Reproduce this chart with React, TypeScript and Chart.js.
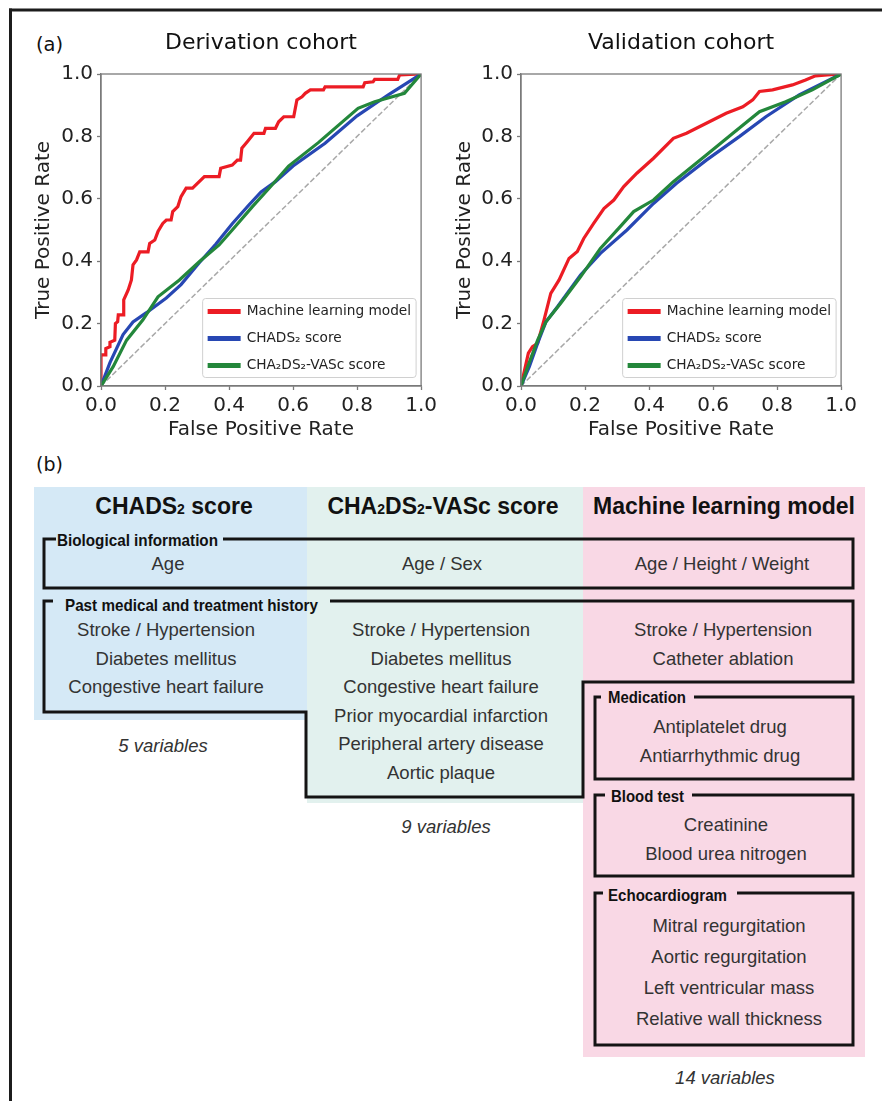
import React, { useEffect, useRef } from 'react';
import { Chart, registerables } from 'chart.js';

Chart.register(...registerables);

// ---------------- Panel (a): ROC curves ----------------
const PANEL_TITLES = ['Derivation cohort', 'Validation cohort'];
const X_AXIS_TITLE = 'False Positive Rate';
const Y_AXIS_TITLE = 'True Positive Rate';
const SERIES_NAMES = ['Machine learning model', 'CHADS₂ score', 'CHA₂DS₂-VASc score'];
const TICK_VALUES = [0, 0.2, 0.4, 0.6, 0.8, 1.0];
const CHANCE_LINE: [number, number][] = [[0, 0], [1, 1]];

// [false positive rate, true positive rate]
const DERIV_ML: [number, number][] = [
  [0, 0], [0, 0.1], [0.015, 0.1], [0.015, 0.12], [0.028, 0.126], [0.028, 0.14], [0.043, 0.147],
  [0.045, 0.2], [0.052, 0.206], [0.054, 0.228], [0.069, 0.228], [0.071, 0.276], [0.085, 0.308],
  [0.095, 0.34], [0.1, 0.388], [0.111, 0.404], [0.121, 0.43], [0.147, 0.43], [0.152, 0.457],
  [0.168, 0.468], [0.178, 0.495], [0.193, 0.521], [0.204, 0.532], [0.219, 0.532], [0.224, 0.559],
  [0.24, 0.575], [0.25, 0.607], [0.266, 0.634], [0.286, 0.634], [0.302, 0.65], [0.323, 0.671],
  [0.369, 0.671], [0.374, 0.698], [0.41, 0.708], [0.426, 0.724], [0.436, 0.724], [0.44, 0.762],
  [0.457, 0.783], [0.478, 0.81], [0.509, 0.81], [0.514, 0.826], [0.545, 0.826], [0.555, 0.847],
  [0.571, 0.863], [0.602, 0.863], [0.612, 0.917], [0.628, 0.927], [0.638, 0.938], [0.654, 0.949],
  [0.695, 0.949], [0.7, 0.959], [0.819, 0.959], [0.824, 0.972], [0.85, 0.975], [0.855, 0.983],
  [0.927, 0.983], [0.933, 0.997], [1, 1],
];
const DERIV_CHADS: [number, number][] = [
  [0, 0], [0.028, 0.075], [0.069, 0.165], [0.1, 0.205], [0.142, 0.235], [0.204, 0.282],
  [0.25, 0.325], [0.307, 0.395], [0.359, 0.455], [0.41, 0.52], [0.462, 0.58], [0.5, 0.622],
  [0.545, 0.655], [0.6, 0.705], [0.7, 0.778], [0.8, 0.866], [0.9, 0.935], [1, 1],
];
const DERIV_VASC: [number, number][] = [
  [0, 0], [0.038, 0.062], [0.08, 0.147], [0.131, 0.212], [0.178, 0.286], [0.245, 0.34],
  [0.307, 0.398], [0.369, 0.452], [0.41, 0.5], [0.473, 0.575], [0.535, 0.645], [0.586, 0.705],
  [0.679, 0.78], [0.803, 0.89], [0.855, 0.911], [0.948, 0.938], [1, 1],
];
const VALID_ML: [number, number][] = [
  [0, 0], [0.023, 0.105], [0.036, 0.126], [0.052, 0.137], [0.072, 0.212], [0.093, 0.297],
  [0.119, 0.34], [0.15, 0.409], [0.176, 0.431], [0.196, 0.473], [0.227, 0.521], [0.259, 0.569],
  [0.29, 0.596], [0.321, 0.639], [0.362, 0.682], [0.414, 0.73], [0.476, 0.794], [0.517, 0.81],
  [0.579, 0.842], [0.641, 0.874], [0.693, 0.895], [0.724, 0.917], [0.745, 0.944], [0.786, 0.949],
  [0.848, 0.965], [0.889, 0.981], [0.92, 0.994], [0.957, 0.997], [1, 1],
];
const VALID_CHADS: [number, number][] = [
  [0, 0], [0.026, 0.062], [0.052, 0.137], [0.078, 0.206], [0.114, 0.254], [0.186, 0.356],
  [0.248, 0.425], [0.331, 0.5], [0.414, 0.585], [0.486, 0.65], [0.579, 0.724], [0.683, 0.8],
  [0.765, 0.863], [0.869, 0.933], [1, 1],
];
const VALID_VASC: [number, number][] = [
  [0, 0], [0.021, 0.062], [0.052, 0.147], [0.078, 0.206], [0.124, 0.265], [0.186, 0.35],
  [0.248, 0.441], [0.31, 0.511], [0.352, 0.559], [0.414, 0.596], [0.476, 0.655], [0.579, 0.74],
  [0.662, 0.81], [0.745, 0.879], [0.827, 0.911], [0.91, 0.949], [1, 1],
];

// ---------------- Panel (b): variable tables ----------------
const COLUMN_TITLES = ['CHADS₂ score', 'CHA₂DS₂-VASc score', 'Machine learning model'];
const GROUP_LABELS = ['Biological information', 'Past medical and treatment history', 'Medication', 'Blood test', 'Echocardiogram'];
const BIO_CHADS = ['Age'];
const BIO_VASC = ['Age / Sex'];
const BIO_ML = ['Age / Height / Weight'];
const HIST_CHADS = ['Stroke / Hypertension', 'Diabetes mellitus', 'Congestive heart failure'];
const HIST_VASC = ['Stroke / Hypertension', 'Diabetes mellitus', 'Congestive heart failure', 'Prior myocardial infarction', 'Peripheral artery disease', 'Aortic plaque'];
const HIST_ML = ['Stroke / Hypertension', 'Catheter ablation'];
const MEDICATION_ML = ['Antiplatelet drug', 'Antiarrhythmic drug'];
const BLOOD_ML = ['Creatinine', 'Blood urea nitrogen'];
const ECHO_ML = ['Mitral regurgitation', 'Aortic regurgitation', 'Left ventricular mass', 'Relative wall thickness'];
const VARIABLE_COUNTS = ['5 variables', '9 variables', '14 variables'];

// ---------------- styles ----------------
const SERIES_COLORS = ['#ec1c24', '#2747b3', '#23873b'];
const AXIS_GRAY = '#7a7a7a';
const MPL_FONT = "'DejaVu Sans', Verdana, sans-serif";
const ARIAL = "'Liberation Sans', Arial, Helvetica, sans-serif";

const framePlugin = {
  id: 'frame',
  afterDatasetsDraw(chart: any) {
    const { ctx, chartArea: a } = chart;
    ctx.save();
    ctx.strokeStyle = AXIS_GRAY;
    ctx.lineWidth = 1.3;
    ctx.strokeRect(a.left, a.top, a.right - a.left, a.bottom - a.top);
    ctx.restore();
  },
};

const insideLegend = {
  id: 'insideLegend',
  afterDraw(chart: any) {
    const { ctx, chartArea: a } = chart;
    const items = chart.data.datasets.filter((d: any) => d.label);
    ctx.save();
    ctx.font = `13.7px ${MPL_FONT}`;
    const textW = Math.max(...items.map((d: any) => ctx.measureText(d.label).width));
    const padL = 5, lineLen = 33, gap = 6, padR = 5, rowH = 27;
    const w = padL + lineLen + gap + textW + padR;
    const h = 13 + rowH * (items.length - 1) + 12;
    const right = a.right - 5;
    const bottom = a.bottom - 8.5;
    const left = right - w;
    const top = bottom - h;
    ctx.beginPath();
    ctx.roundRect(left, top, w, h, 3);
    ctx.fillStyle = 'rgba(255,255,255,0.85)';
    ctx.fill();
    ctx.strokeStyle = '#d0d0d0';
    ctx.lineWidth = 1;
    ctx.stroke();
    items.forEach((d: any, i: number) => {
      const cy = top + 13 + i * rowH;
      ctx.beginPath();
      ctx.moveTo(left + padL, cy);
      ctx.lineTo(left + padL + lineLen, cy);
      ctx.strokeStyle = d.borderColor;
      ctx.lineWidth = 5;
      ctx.lineCap = 'butt';
      ctx.stroke();
      ctx.fillStyle = '#222';
      ctx.textBaseline = 'middle';
      ctx.textAlign = 'left';
      ctx.fillText(d.label, left + padL + lineLen + gap, cy);
    });
    ctx.restore();
  },
};

function RocPanel({ title, series, left, yTitlePad }: { title: string; series: [number, number][][]; left: number; yTitlePad: number }) {
  const ref = useRef<HTMLCanvasElement>(null);
  useEffect(() => {
    if (!ref.current) return;
    const datasets: any[] = series.map((pts, i) => ({
      label: SERIES_NAMES[i],
      data: pts.map(([x, y]) => ({ x, y })),
      borderColor: SERIES_COLORS[i],
      backgroundColor: SERIES_COLORS[i],
      borderWidth: 3.2,
      pointRadius: 0,
      fill: false,
      tension: 0,
      order: 3 - i,
    }));
    datasets.push({
      label: '',
      data: CHANCE_LINE.map(([x, y]) => ({ x, y })),
      borderColor: '#a8a8a8',
      borderWidth: 1.5,
      borderDash: [5.5, 2.4],
      pointRadius: 0,
      fill: false,
      order: 10,
    });
    const tickFont = { family: MPL_FONT, size: 20 };
    const axisCommon = {
      type: 'linear',
      min: 0,
      max: 1,
      afterBuildTicks: (axis: any) => {
        axis.ticks = TICK_VALUES.map((v) => ({ value: v }));
      },
      grid: { display: true, drawOnChartArea: false, drawTicks: true, tickLength: 4, tickWidth: 1.3, tickColor: AXIS_GRAY },
      border: { display: true, color: AXIS_GRAY, width: 1.3 },
    };
    const chart = new Chart(ref.current, {
      type: 'line',
      data: { datasets },
      plugins: [framePlugin, insideLegend],
      options: {
        animation: false,
        responsive: false,
        devicePixelRatio: 1,
        layout: { padding: { top: 0, left: 0, right: 18, bottom: 0 } },
        plugins: {
          legend: { display: false },
          tooltip: { enabled: false },
          title: {
            display: true,
            text: title,
            fullSize: false,
            color: '#111',
            font: { family: MPL_FONT, size: 22, weight: 'normal' },
            padding: { top: 16, bottom: 17.6 },
          },
        },
        scales: {
          x: {
            ...axisCommon,
            position: 'bottom',
            ticks: { font: tickFont, color: '#222', padding: 4, maxRotation: 0, autoSkip: false, callback: (v: any) => Number(v).toFixed(1) },
            title: { display: true, text: X_AXIS_TITLE, color: '#222', font: { family: MPL_FONT, size: 20 }, padding: { top: 0, bottom: 0 } },
            afterFit: (s: any) => { s.height = 56; },
          },
          y: {
            ...axisCommon,
            position: 'left',
            ticks: { font: tickFont, color: '#222', padding: 4, autoSkip: false, callback: (v: any) => Number(v).toFixed(1) },
            title: { display: true, text: Y_AXIS_TITLE, color: '#222', font: { family: MPL_FONT, size: 20 }, padding: { top: yTitlePad, bottom: 0 } },
            afterFit: (s: any) => { s.width = 87; },
          },
        },
      } as any,
    } as any);
    return () => chart.destroy();
  }, []);
  return (
    <canvas
      ref={ref}
      width={427}
      height={428}
      style={{ position: 'absolute', left, top: 14, width: 427, height: 428, zIndex: 2 }}
    />
  );
}

function withSub(text: string, subSize: number) {
  const parts = text.split('₂');
  const out: any[] = [];
  parts.forEach((p, i) => {
    out.push(p);
    if (i < parts.length - 1) out.push(<tspan key={i} fontSize={subSize}>2</tspan>);
  });
  return out;
}

function ItemList({ items, x, y0, step }: { items: string[]; x: number; y0: number; step: number }) {
  return (
    <>
      {items.map((t, i) => (
        <text key={t + i} x={x} y={y0 + i * step} textAnchor="middle" fontFamily={ARIAL} fontSize={18.5} fill="#333">
          {t}
        </text>
      ))}
    </>
  );
}

function GroupLabel({ text, x, y, w }: { text: string; x: number; y: number; w: number }) {
  return (
    <text x={x} y={y} fontFamily={ARIAL} fontWeight="bold" fontSize={16.5} fill="#111" textLength={w} lengthAdjust="spacingAndGlyphs">
      {text}
    </text>
  );
}

function Diagram() {
  const box = { fill: 'none', stroke: '#141414', strokeWidth: 3, strokeLinejoin: 'miter' as const };
  const headerCenters = [174, 443, 724];
  const countCenters = [163, 446, 725];
  const countBaselines = [752, 833, 1084];
  return (
    <svg width={882} height={1101} style={{ position: 'absolute', left: 0, top: 0, zIndex: 1 }}>
      {/* outer frame */}
      <path d="M 9 10 H 882" stroke="#1c1c1c" strokeWidth={3} fill="none" />
      <path d="M 10.5 8.5 V 1101" stroke="#1c1c1c" strokeWidth={3} fill="none" />

      <text x={36} y={50.6} fontFamily={MPL_FONT} fontSize={19.5} fill="#111">(a)</text>
      <text x={36} y={470.6} fontFamily={MPL_FONT} fontSize={19} fill="#111">(b)</text>

      {/* column backgrounds */}
      <rect x={34} y={487} width={273} height={233} fill="#d5e9f6" />
      <rect x={307} y={487} width={276} height={316} fill="#e2f1ee" />
      <rect x={583} y={487} width={282} height={570} fill="#f9d8e5" />

      {/* headers */}
      {COLUMN_TITLES.map((t, i) => (
        <text key={t} x={headerCenters[i]} y={514} textAnchor="middle" fontFamily={ARIAL} fontWeight="bold" fontSize={23} fill="#111">
          {withSub(t, 14)}
        </text>
      ))}

      {/* Biological information */}
      <path d="M 56 539 H 44 V 588 H 853 V 539 H 223" {...box} />
      <GroupLabel text={GROUP_LABELS[0]} x={57} y={546} w={161} />
      <ItemList items={BIO_CHADS} x={168} y0={570} step={0} />
      <ItemList items={BIO_VASC} x={442} y0={570} step={0} />
      <ItemList items={BIO_ML} x={722} y0={570} step={0} />

      {/* Past medical and treatment history */}
      <path d="M 53 601 H 44 V 712 H 306 V 797 H 583 V 682 H 853 V 601 H 330" {...box} />
      <GroupLabel text={GROUP_LABELS[1]} x={65} y={611} w={253} />
      <ItemList items={HIST_CHADS} x={166} y0={636} step={28.5} />
      <ItemList items={HIST_VASC} x={441} y0={636} step={28.5} />
      <ItemList items={HIST_ML} x={723} y0={636} step={29} />

      {/* Medication */}
      <path d="M 601 697 H 595 V 779 H 853 V 697 H 694" {...box} />
      <GroupLabel text={GROUP_LABELS[2]} x={608} y={703} w={78} />
      <ItemList items={MEDICATION_ML} x={720} y0={733} step={29} />

      {/* Blood test */}
      <path d="M 605 795 H 595 V 876 H 853 V 795 H 692" {...box} />
      <GroupLabel text={GROUP_LABELS[3]} x={611} y={802} w={73} />
      <ItemList items={BLOOD_ML} x={726} y0={830.5} step={29} />

      {/* Echocardiogram */}
      <path d="M 603 893 H 595 V 1045 H 853 V 893 H 737" {...box} />
      <GroupLabel text={GROUP_LABELS[4]} x={608} y={901} w={119} />
      <ItemList items={ECHO_ML} x={729} y0={931.5} step={31.3} />

      {/* variable counts */}
      {VARIABLE_COUNTS.map((t, i) => (
        <text key={t} x={countCenters[i]} y={countBaselines[i]} textAnchor="middle" fontFamily={ARIAL} fontStyle="italic" fontSize={18.5} fill="#333">
          {t}
        </text>
      ))}
    </svg>
  );
}

export default function App() {
  return (
    <div style={{ position: 'absolute', left: 0, top: 0, width: 882, height: 1101, background: '#fff', overflow: 'hidden' }}>
      <Diagram />
      <RocPanel title={PANEL_TITLES[0]} series={[DERIV_ML, DERIV_CHADS, DERIV_VASC]} left={14} yTitlePad={18} />
      <RocPanel title={PANEL_TITLES[1]} series={[VALID_ML, VALID_CHADS, VALID_VASC]} left={434} yTitlePad={19} />
    </div>
  );
}
